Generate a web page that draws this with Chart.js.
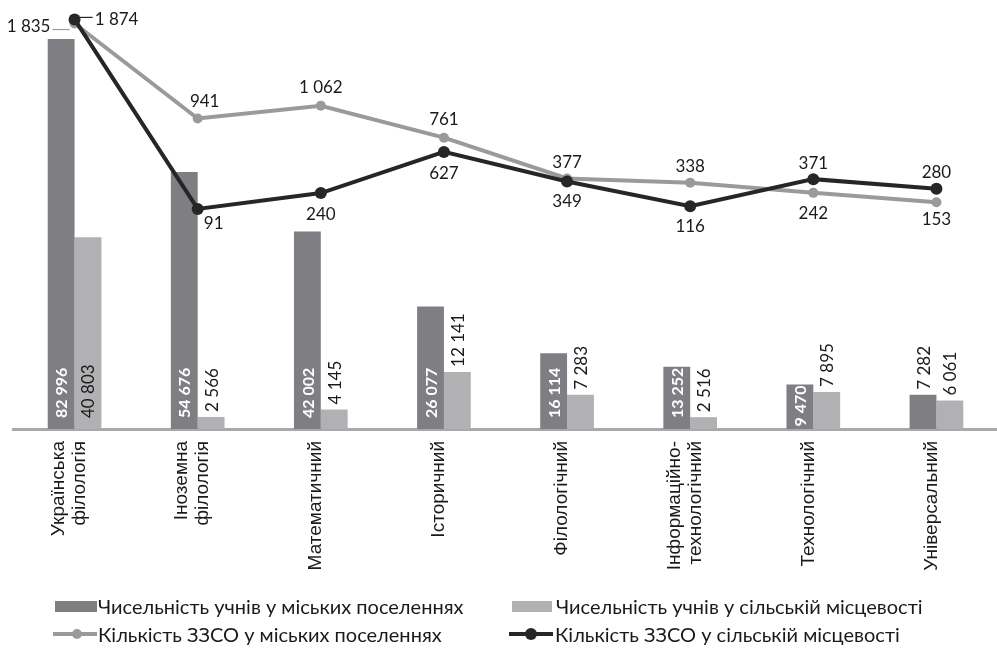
<!DOCTYPE html>
<html lang="uk">
<head>
<meta charset="utf-8">
<title>ЗЗСО та учні за профілями</title>
<script src="https://cdn.jsdelivr.net/npm/chart.js@4.4.1/dist/chart.umd.min.js"></script>
<style>
    body { margin: 0; background: #fff; overflow: hidden; }
    #wrap { position: relative; width: 997px; height: 648px; overflow: hidden; }
    #chart { position: absolute; left: 0; top: 0; }
    .leg { position: absolute; font-family: Lato, sans-serif; font-size: 20px; color: #1a1a1a; white-space: nowrap; line-height: 22px; }
    .sw { position: absolute; }
    .dot { position: absolute; border-radius: 50%; }
</style>
</head>
<body>
<div id="wrap">
    <canvas id="chart" width="1004" height="648"></canvas>

    <div class="sw" style="left:55px; top:601px; width:42px; height:11px; background:#7f7f83;"></div>
    <div class="leg" style="left:98px; top:595px;">Чисельність учнів у міських поселеннях</div>

    <div class="sw" style="left:512px; top:601px; width:40px; height:11px; background:#b1b1b4;"></div>
    <div class="leg" style="left:556px; top:595px;">Чисельність учнів у сільській місцевості</div>

    <div class="sw" style="left:53px; top:632px; width:44px; height:4px; background:#9a9a9c;"></div>
    <div class="dot" style="left:72px; top:629px; width:10px; height:10px; background:#9a9a9c;"></div>
    <div class="leg" style="left:98px; top:623px;">Кількість ЗЗСО у міських поселеннях</div>

    <div class="sw" style="left:509px; top:632px; width:44px; height:4px; background:#262626;"></div>
    <div class="dot" style="left:525px; top:628px; width:12px; height:12px; background:#262626;"></div>
    <div class="leg" style="left:555px; top:623px;">Кількість ЗЗСО у сільській місцевості</div>
</div>

<script>
// ============================================
// Data
// ============================================

const categories = [
    ['Українська', 'філологія'],
    ['Іноземна', 'філологія'],
    'Математичний',
    'Історичний',
    'Філологічний',
    ['Інформаційно-', 'технологічний'],
    'Технологічний',
    'Універсальний'
];

// pupils (bars)
const urbanPupils = [82996, 54676, 42002, 26077, 16114, 13252, 9470, 7282];
const ruralPupils = [40803, 2566, 4145, 12141, 7283, 2516, 7895, 6061];

// schools (lines)
const urbanSchools = [1835, 941, 1062, 761, 377, 338, 242, 153];
const ruralSchools = [1874, 91, 240, 627, 349, 116, 371, 280];

// label offsets for the line values [dx, dy] from the point
const urbanLabelOffsets = [[-46, 3], [7, -17], [0, -18], [0, -18], [0, -16], [0, -16], [0, 21], [0, 17]];
const ruralLabelOffsets = [[42, 0], [16, 15], [0, 21], [0, 22], [0, 20], [0, 20], [0, -16], [0, -16]];

const DARK_BAR = '#7f7f83';
const LIGHT_BAR = '#b1b1b4';
const GRAY_LINE = '#9a9a9c';
const BLACK_LINE = '#262626';
const TEXT = '#1a1a1a';

function fmt(v) {
    return String(v).replace(/\B(?=(\d{3})+(?!\d))/g, ' ');
}

// ============================================
// Value labels + category labels
// ============================================

const valueLabels = {
    id: 'valueLabels',
    afterDatasetsDraw(chart) {
        const ctx = chart.ctx;

        // bar labels, rotated
        for (let di = 0; di < 2; di++) {
            const meta = chart.getDatasetMeta(di);
            const values = chart.data.datasets[di].data;
            for (let i = 0; i < meta.data.length; i++) {
                const bar = meta.data[i];
                const text = fmt(values[i]);
                const h = bar.base - bar.y;

                ctx.save();
                let inside, w;
                if (di === 0) {
                    ctx.font = 'bold 16px Lato, sans-serif';
                    w = ctx.measureText(text).width;
                    inside = w <= h;
                    if (!inside) ctx.font = '17px Lato, sans-serif';
                    ctx.fillStyle = inside ? '#ffffff' : TEXT;
                } else {
                    ctx.font = '17px Lato, sans-serif';
                    w = ctx.measureText(text).width;
                    inside = w + 4 <= h;
                    ctx.fillStyle = TEXT;
                }
                let start;
                if (inside) {
                    start = bar.base - Math.max(1, Math.min(11, h - w - 1));
                } else {
                    start = bar.y - 5;
                }
                ctx.translate(bar.x, start);
                ctx.rotate(-Math.PI / 2);
                ctx.textAlign = 'left';
                ctx.textBaseline = 'middle';
                ctx.fillText(text, 0, 1);
                ctx.restore();
            }
        }

        // line labels
        const lineSets = [[2, urbanLabelOffsets, GRAY_LINE], [3, ruralLabelOffsets, BLACK_LINE]];
        lineSets.forEach(function (set) {
            const di = set[0], offsets = set[1], leaderColor = set[2];
            const meta = chart.getDatasetMeta(di);
            const values = chart.data.datasets[di].data;
            for (let i = 0; i < meta.data.length; i++) {
                const pt = meta.data[i];
                const text = fmt(values[i]);
                const x = pt.x + offsets[i][0];
                const y = pt.y + offsets[i][1];
                ctx.save();
                ctx.font = '17px Lato, sans-serif';
                ctx.fillStyle = TEXT;
                ctx.textAlign = 'center';
                ctx.textBaseline = 'middle';
                ctx.fillText(text, x, y);

                // leader lines for the labels put beside the point
                if (Math.abs(offsets[i][0]) > 30) {
                    const w = ctx.measureText(text).width;
                    ctx.strokeStyle = leaderColor;
                    ctx.lineWidth = 1.2;
                    ctx.beginPath();
                    if (offsets[i][0] < 0) {
                        ctx.moveTo(x + w / 2 + 2, y + 3);
                        ctx.lineTo(pt.x - 5, y + 3);
                    } else {
                        ctx.moveTo(pt.x + 5, y - 2);
                        ctx.lineTo(x - w / 2 - 2, y - 2);
                    }
                    ctx.stroke();
                }
                ctx.restore();
            }
        });
    },
    afterDraw(chart) {
        // rotated category labels, centred on the tick like the original
        const ctx = chart.ctx;
        const xScale = chart.scales.x;
        const top = chart.chartArea.bottom + 12;
        const lh = 21;
        ctx.save();
        ctx.font = '19px "Liberation Sans", Arial, sans-serif';
        ctx.fillStyle = TEXT;
        ctx.textAlign = 'right';
        ctx.textBaseline = 'middle';
        for (let i = 0; i < categories.length; i++) {
            const lines = Array.isArray(categories[i]) ? categories[i] : [categories[i]];
            const px = xScale.getPixelForValue(i);
            for (let k = 0; k < lines.length; k++) {
                const cx = px - 5 + (k - (lines.length - 1) / 2) * lh;
                ctx.save();
                ctx.translate(cx, top);
                ctx.rotate(-Math.PI / 2);
                ctx.fillText(lines[k], 0, 0);
                ctx.restore();
            }
        }
        ctx.restore();
    }
};

// ============================================
// Chart
// ============================================

const ctx = document.getElementById('chart').getContext('2d');

new Chart(ctx, {
    data: {
        labels: categories,
        datasets: [
            {
                type: 'bar',
                label: 'Чисельність учнів у міських поселеннях',
                data: urbanPupils,
                backgroundColor: DARK_BAR,
                yAxisID: 'yBar',
                order: 2
            },
            {
                type: 'bar',
                label: 'Чисельність учнів у сільській місцевості',
                data: ruralPupils,
                backgroundColor: LIGHT_BAR,
                yAxisID: 'yBar',
                order: 2
            },
            {
                type: 'line',
                label: 'Кількість ЗЗСО у міських поселеннях',
                data: urbanSchools,
                borderColor: GRAY_LINE,
                backgroundColor: GRAY_LINE,
                borderWidth: 4,
                pointRadius: 5,
                pointBorderWidth: 0,
                tension: 0,
                yAxisID: 'yLine',
                order: 1
            },
            {
                type: 'line',
                label: 'Кількість ЗЗСО у сільській місцевості',
                data: ruralSchools,
                borderColor: BLACK_LINE,
                backgroundColor: BLACK_LINE,
                borderWidth: 4,
                pointRadius: 6,
                pointBorderWidth: 0,
                tension: 0,
                yAxisID: 'yLine',
                order: 0
            }
        ]
    },
    options: {
        responsive: false,
        animation: false,
        layout: { padding: { top: 5, left: 13, right: 0, bottom: 0 } },
        datasets: {
            bar: { categoryPercentage: 0.436, barPercentage: 1.0 }
        },
        plugins: {
            legend: { display: false },
            tooltip: { enabled: false }
        },
        scales: {
            x: {
                grid: { display: false },
                border: { display: true, color: '#a9a9ab', width: 3 },
                ticks: { display: false },
                afterFit: function (scale) {
                    scale.height = 219;
                }
            },
            yBar: {
                display: false,
                min: 0,
                max: 90000
            },
            yLine: {
                display: false,
                position: 'right',
                min: -1980,
                max: 2000
            }
        }
    },
    plugins: [valueLabels]
});
</script>
</body>
</html>
